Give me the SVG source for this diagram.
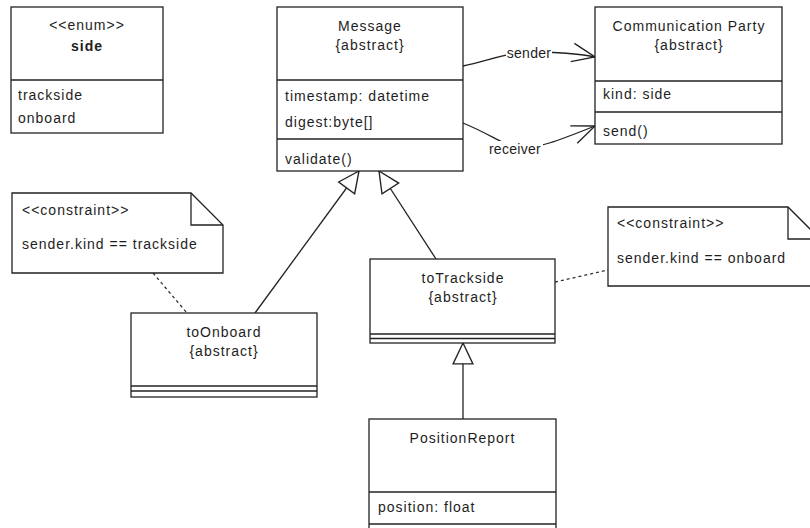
<svg xmlns="http://www.w3.org/2000/svg" width="810" height="528" viewBox="0 0 810 528">
<style>
text{font-family:"Liberation Sans",Arial,Helvetica,sans-serif;font-size:14px;fill:#1e1e1e;letter-spacing:1px}
.c{text-anchor:middle}
.b{font-weight:bold}
.lbl{letter-spacing:0.3px;text-anchor:middle}
.box{fill:#fff;stroke:#222;stroke-width:1.3}
.ln{fill:none;stroke:#222;stroke-width:1.3}
.dash{fill:none;stroke:#333;stroke-width:1.3;stroke-dasharray:3 3}
</style>
<defs>
<marker id="gen" markerUnits="userSpaceOnUse" markerWidth="24" markerHeight="24" viewBox="-1 -1 23 22" refX="20" refY="10" orient="auto" overflow="visible">
<path d="M0,0.5 L20,10 L0,19.5 Z" fill="#fff" stroke="#222" stroke-width="1.3"/>
</marker>
<marker id="open" markerUnits="userSpaceOnUse" markerWidth="26" markerHeight="22" viewBox="-1 -1 25 20" refX="22" refY="9" orient="auto" overflow="visible">
<path d="M0,0 L22,9 L0,18" fill="none" stroke="#222" stroke-width="1.3"/>
</marker>
</defs>

<g id="connectors">
<path class="ln" d="M463,66 C490,60 510,52 530,52 C548,52 570,52 595,57" marker-end="url(#open)"/>
<path class="ln" d="M463,123 C485,132 500,142 515,148 C535,150 560,140 595,126" marker-end="url(#open)"/>
<line class="ln" x1="255" y1="313" x2="359" y2="171" marker-end="url(#gen)"/>
<line class="ln" x1="436" y1="259" x2="379" y2="171" marker-end="url(#gen)"/>
<line class="ln" x1="463" y1="419" x2="463" y2="343" marker-end="url(#gen)"/>
<line class="dash" x1="153" y1="273" x2="187" y2="313"/>
<line class="dash" x1="555" y1="282" x2="608" y2="270"/>
<rect x="506" y="44" width="46" height="17" fill="#fff"/>
<text class="lbl" x="529" y="58">sender</text>
<rect x="488" y="141" width="55" height="17" fill="#fff"/>
<text class="lbl" x="515" y="154">receiver</text>
</g>

<g id="side">
<rect class="box" x="11" y="7" width="152" height="126"/>
<line class="ln" x1="11" y1="80" x2="163" y2="80"/>
<text class="c" x="87" y="29.5">&lt;&lt;enum&gt;&gt;</text>
<text class="c b" x="87" y="50.5">side</text>
<text x="18" y="100">trackside</text>
<text x="18" y="123">onboard</text>
</g>

<g id="message">
<rect class="box" x="277" y="7" width="186" height="164"/>
<line class="ln" x1="277" y1="80" x2="463" y2="80"/>
<line class="ln" x1="277" y1="139" x2="463" y2="139"/>
<text class="c" x="370" y="30.5">Message</text>
<text class="c" x="370" y="50">{abstract}</text>
<text x="285" y="100.5">timestamp: datetime</text>
<text x="285" y="127">digest:byte[]</text>
<text x="285" y="164">validate()</text>
</g>

<g id="communication-party">
<rect class="box" x="595" y="7" width="187" height="137"/>
<line class="ln" x1="595" y1="81" x2="782" y2="81"/>
<line class="ln" x1="595" y1="112" x2="782" y2="112"/>
<text class="c" x="689" y="31">Communication Party</text>
<text class="c" x="689" y="50">{abstract}</text>
<text x="603" y="99">kind: side</text>
<text x="603" y="135.5">send()</text>
</g>

<g id="note-trackside">
<path class="box" d="M12,193 H191 L223,225 V273 H12 Z"/>
<path class="ln" d="M191,193 V225 H223"/>
<text x="22" y="215">&lt;&lt;constraint&gt;&gt;</text>
<text x="22" y="249">sender.kind == trackside</text>
</g>

<g id="toOnboard">
<rect class="box" x="131" y="313" width="186" height="84"/>
<line class="ln" x1="131" y1="386" x2="317" y2="386"/>
<line class="ln" x1="131" y1="391" x2="317" y2="391"/>
<text class="c" x="224" y="337">toOnboard</text>
<text class="c" x="224" y="356">{abstract}</text>
</g>

<g id="toTrackside">
<rect class="box" x="370" y="259" width="185" height="84"/>
<line class="ln" x1="370" y1="334" x2="555" y2="334"/>
<line class="ln" x1="370" y1="338.5" x2="555" y2="338.5"/>
<text class="c" x="463" y="283">toTrackside</text>
<text class="c" x="463" y="302">{abstract}</text>
</g>

<g id="note-onboard">
<path class="box" d="M608,207 H788 L820,239 V286 H608 Z"/>
<path class="ln" d="M788,207 V239 H820"/>
<text x="617" y="228">&lt;&lt;constraint&gt;&gt;</text>
<text x="617" y="263">sender.kind == onboard</text>
</g>

<g id="PositionReport">
<rect class="box" x="369" y="419" width="187" height="115"/>
<line class="ln" x1="369" y1="492" x2="556" y2="492"/>
<line class="ln" x1="369" y1="524" x2="556" y2="524"/>
<text class="c" x="462.5" y="443">PositionReport</text>
<text x="378" y="512">position: float</text>
</g>
</svg>
